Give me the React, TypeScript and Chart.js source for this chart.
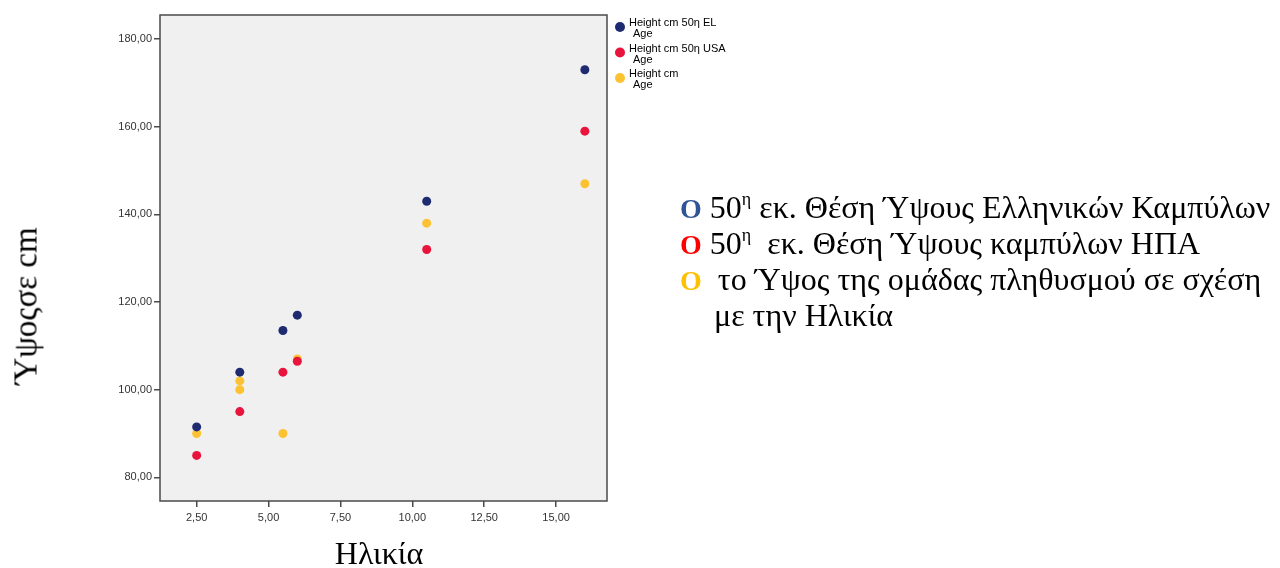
import React, { useEffect, useRef } from "react";
import { Chart, registerables } from "chart.js";

Chart.register(...registerables);

// ---- data ----
const ageEL = [2.5, 4, 5.5, 6, 10.5, 16];
const heightEL = [91.5, 104, 113.5, 117, 143, 173];
const ageUSA = [2.5, 4, 5.5, 6, 10.5, 16];
const heightUSA = [85, 95, 104, 106.5, 132, 159];
const ageGroup = [2.5, 4, 4, 5.5, 6, 10.5, 16];
const heightGroup = [90, 102, 100, 90, 107, 138, 147];
const xTicks = [2.5, 5, 7.5, 10, 12.5, 15];
const yTicks = [80, 100, 120, 140, 160, 180];
const seriesLabels = [
  ["Height cm 50η EL", "Age"],
  ["Height cm 50η USA", "Age"],
  ["Height cm", "Age"],
];
const seriesColors = ["#1f2b70", "#e8143c", "#fcc232"];
const xTitle = "Ηλικία";
const yTitle = "Ύψοςσε cm";

const fmt = (v: number) => v.toFixed(2).replace(".", ",");
const toPts = (xs: number[], ys: number[]) => xs.map((x, i) => ({ x, y: ys[i] }));

const framePlugin = {
  id: "frame",
  beforeDraw(chart: any) {
    const { ctx, chartArea: a } = chart;
    ctx.save();
    ctx.fillStyle = "#f0f0f0";
    ctx.fillRect(a.left, a.top, a.right - a.left, a.bottom - a.top);
    ctx.restore();
  },
  afterDraw(chart: any) {
    const { ctx, chartArea: a } = chart;
    ctx.save();
    ctx.strokeStyle = "#4a4a4a";
    ctx.lineWidth = 1.5;
    ctx.strokeRect(a.left, a.top, a.right - a.left, a.bottom - a.top);
    ctx.restore();
  },
};

const legendPlugin = {
  id: "sideLegend",
  afterDraw(chart: any) {
    const { ctx, chartArea: a } = chart;
    ctx.save();
    chart.data.datasets.forEach((ds: any, i: number) => {
      const cy = a.top + 12 + i * 25.5;
      const cx = a.right + 13;
      ctx.beginPath();
      ctx.arc(cx, cy, 5, 0, Math.PI * 2);
      ctx.fillStyle = ds.backgroundColor;
      ctx.fill();
      ctx.fillStyle = "#000";
      ctx.font = "11px 'Liberation Sans', Arial, sans-serif";
      ctx.textBaseline = "middle";
      ctx.textAlign = "left";
      const lines: string[] = ds.label;
      ctx.fillText(lines[0], cx + 9, cy - 4);
      ctx.fillText(lines[1], cx + 13, cy + 7);
    });
    ctx.restore();
  },
};

export default function App() {
  const ref = useRef<HTMLCanvasElement | null>(null);

  useEffect(() => {
    if (!ref.current) return;
    const tickFont = { family: "'Liberation Sans', Arial, sans-serif", size: 11 };
    const chart = new Chart(ref.current, {
      type: "scatter",
      data: {
        datasets: [
          { label: seriesLabels[0] as any, data: toPts(ageEL, heightEL), backgroundColor: seriesColors[0] },
          { label: seriesLabels[1] as any, data: toPts(ageUSA, heightUSA), backgroundColor: seriesColors[1] },
          { label: seriesLabels[2] as any, data: toPts(ageGroup, heightGroup), backgroundColor: seriesColors[2] },
        ].map((d) => ({ ...d, pointRadius: 4.5, pointBorderWidth: 0, borderWidth: 0, pointHoverRadius: 4.5 })),
      },
      options: {
        responsive: false,
        animation: false,
        events: [],
        layout: { padding: { top: 15, right: 673, left: 0, bottom: 0 } },
        plugins: { legend: { display: false }, tooltip: { enabled: false } },
        scales: {
          x: {
            type: "linear",
            min: 1.225,
            max: 16.77,
            afterFit: (s: any) => { s.height = 67; },
            afterBuildTicks: (s: any) => { s.ticks = xTicks.map((v) => ({ value: v })); },
            border: { display: false },
            grid: { drawOnChartArea: false, drawTicks: true, tickLength: 6, color: "#4a4a4a", lineWidth: 1.5 },
            ticks: { font: tickFont, color: "#333", padding: 4, maxRotation: 0, callback: (v: any) => fmt(Number(v)) },
          },
          y: {
            type: "linear",
            min: 74.6,
            max: 185.5,
            afterFit: (s: any) => { s.width = 160; },
            afterBuildTicks: (s: any) => { s.ticks = yTicks.map((v) => ({ value: v })); },
            border: { display: false },
            grid: { drawOnChartArea: false, drawTicks: true, tickLength: 6, color: "#4a4a4a", lineWidth: 1.5 },
            ticks: { font: tickFont, color: "#333", padding: 2, callback: (v: any) => fmt(Number(v)) },
          },
        },
      },
      plugins: [framePlugin, legendPlugin],
    });
    return () => chart.destroy();
  }, []);

  const serif = "'Liberation Serif', 'Times New Roman', serif";
  const lineStyle: React.CSSProperties = {
    position: "absolute",
    left: 680,
    fontFamily: serif,
    fontSize: 32,
    lineHeight: "36px",
    whiteSpace: "pre",
    color: "#000",
  };
  const sup: React.CSSProperties = { fontSize: 18, verticalAlign: "top", lineHeight: "20px" };
  const bigO = (color: string) => (
    <span style={{ color, fontWeight: "bold", fontSize: 28 }}>O</span>
  );

  return (
    <div style={{ position: "absolute", left: 0, top: 0, width: 1280, height: 568, background: "#fff", overflow: "hidden" }}>
      <canvas ref={ref} width={1280} height={568} style={{ position: "absolute", left: 0, top: 0, width: 1280, height: 568 }} />
      <div
        style={{
          position: "absolute",
          left: 379,
          top: 553,
          transform: "translate(-50%, -50%)",
          fontFamily: serif,
          fontSize: 32,
          whiteSpace: "nowrap",
        }}
      >
        {xTitle}
      </div>
      <div
        style={{
          position: "absolute",
          left: 26,
          top: 306,
          transform: "translate(-50%, -50%) rotate(-90deg)",
          fontFamily: serif,
          fontSize: 33,
          whiteSpace: "nowrap",
        }}
      >
        {yTitle}
      </div>
      <div style={{ ...lineStyle, top: 189 }}>
        {bigO("#2f5597")}
        {" 50"}
        <span style={sup}>η</span>
        {" εκ. Θέση Ύψους Ελληνικών Καμπύλων"}
      </div>
      <div style={{ ...lineStyle, top: 225 }}>
        {bigO("#ff0000")}
        {" 50"}
        <span style={sup}>η</span>
        {"  εκ. Θέση Ύψους καμπύλων ΗΠΑ"}
      </div>
      <div style={{ ...lineStyle, top: 261 }}>
        {bigO("#ffc000")}
        {"  το Ύψος της ομάδας πληθυσμού σε σχέση"}
      </div>
      <div style={{ ...lineStyle, top: 297, left: 714 }}>{"με την Ηλικία"}</div>
    </div>
  );
}
